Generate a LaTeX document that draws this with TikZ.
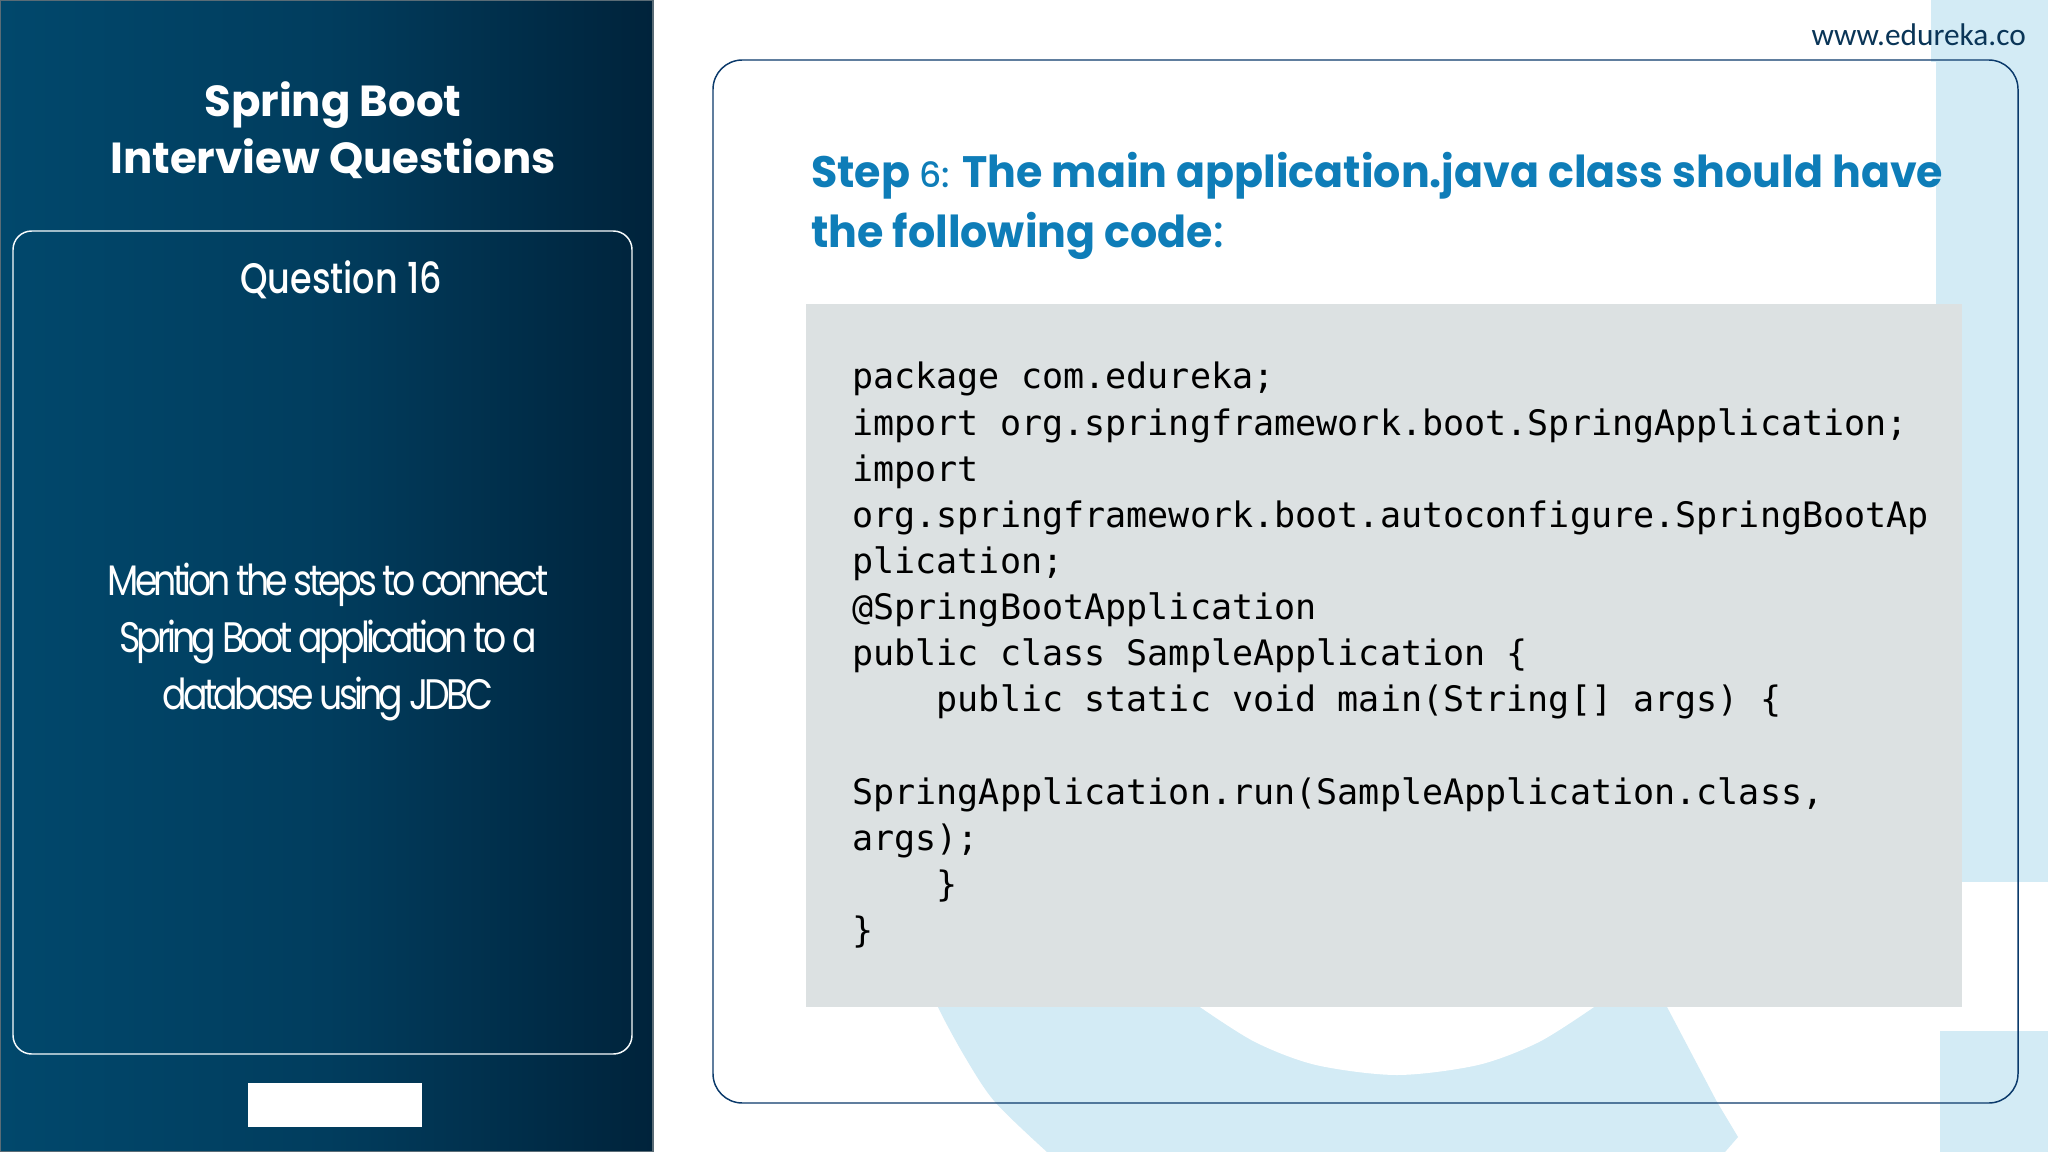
\documentclass[tikz,border=0pt]{standalone}
\usepackage{fontspec}
\usepackage{xcolor}
\setmainfont{Liberation Sans}
\newfontfamily\headfont{Poppins}[FakeStretch=0.972]
\newfontfamily\sidefont{Poppins}
\newfontfamily\stepnum{Poppins Medium}
\newfontfamily\headtight{Poppins Medium}[FakeStretch=0.82]
\newfontfamily\asktight{Poppins}[LetterSpace=-8.8,FakeStretch=0.85]
\newfontfamily\linkfont{Carlito}
\newfontfamily\codefont{DejaVu Sans Mono}
\definecolor{stripblue}{HTML}{D3EBF5}
\definecolor{codegray}{HTML}{DCE1E2}
\definecolor{headblue}{HTML}{0E7DB8}
\definecolor{framenavy}{HTML}{0B3A6B}
\definecolor{linknavy}{HTML}{0A3557}
\definecolor{panelleft}{HTML}{01486C}
\definecolor{panelmid}{HTML}{013D5E}
\definecolor{panelright}{HTML}{00233B}
\tikzset{
  paneltext/.style={text=white,align=center,inner sep=0pt},
  heading/.style={text=headblue,anchor=base west,inner sep=0pt},
  codetext/.style={text=black,align=left,anchor=north west,inner sep=0pt,font=\codefont\fontsize{26.3}{34.6}\selectfont}
}

\begin{document}
\begin{tikzpicture}[x=0.75pt,y=-0.75pt]
\useasboundingbox (0,0) rectangle (2048,1152);

\fill[white] (0,0) rectangle (2048,1152);
\fill[stripblue] (1931,0) rectangle (2048,882);
\fill[white] (1000,62) rectangle (1936,304);
\fill[stripblue] (1940,1031) rectangle (2048,1152);
\fill[stripblue] plot[smooth] coordinates {(930,980) (938,1007) (965,1057) (995,1102) (1047,1152)} -- (1725,1152) -- (1738,1137) -- (1717,1102) -- (1667,1007) -- (1660,980) -- cycle;
\fill[white] plot[smooth] coordinates {(1200,1007) (1255,1042) (1316,1065) (1397,1075) (1478,1065) (1539,1042) (1594,1007)} -- cycle;
\fill[codegray] (806,304) rectangle (1962,1007);
\draw[framenavy,line width=1.1pt,rounded corners=22pt] (713,60) rectangle (2018,1103);

\shade[left color=panelleft,right color=panelright,middle color=panelmid] (0,0) rectangle (653,1152);
\draw[gray!70!panelmid,line width=0.8pt] (0,0) rectangle (653,1152);
\draw[white!85!stripblue,line width=1.1pt,rounded corners=14pt] (13,231) rectangle (632,1054);
\fill[white] (248,1083) rectangle (422,1127);

\node[paneltext,font=\sidefont\bfseries\fontsize{32.6}{42.8}\selectfont] (paneltitle) at (333,130) {Spring Boot\\Interview Questions};
\node[paneltext,font=\headtight\fontsize{32}{40}\selectfont] (questionno) at (341,280) {Question 16};
\node[paneltext,font=\asktight\fontsize{32}{42.6}\selectfont] (questiontext) at (328,642) {Mention the steps to connect\\Spring Boot application to a\\database using JDBC};

\node[text=linknavy,anchor=base east,inner sep=0pt,font=\linkfont\fontsize{23.5}{30}\selectfont] (sitelink) at (2026,46) {www.edureka.co};

\node[heading,font=\headfont\bfseries\fontsize{33}{40}\selectfont] (stepone) at (811,187) {Step {\stepnum\mdseries\fontsize{26}{30}\selectfont 6:} The main application.java class should have};
\node[heading,font=\headfont\bfseries\fontsize{33}{40}\selectfont] (steptwo) at (811,247) {the following code{\stepnum\mdseries:}};

\node[codetext] (codeblock) at (852,362) {package com.edureka;\\
import org.springframework.boot.SpringApplication;\\
import\\
org.springframework.boot.autoconfigure.SpringBootAp\\
plication;\\
@SpringBootApplication\\
public class SampleApplication \{\\
\mbox{}\hspace*{4\dimexpr0.602em\relax}public static void main(String[] args) \{\\
\mbox{}\\
SpringApplication.run(SampleApplication.class,\\
args);\\
\mbox{}\hspace*{4\dimexpr0.602em\relax}\}\\
\}};

\end{tikzpicture}
\end{document}
